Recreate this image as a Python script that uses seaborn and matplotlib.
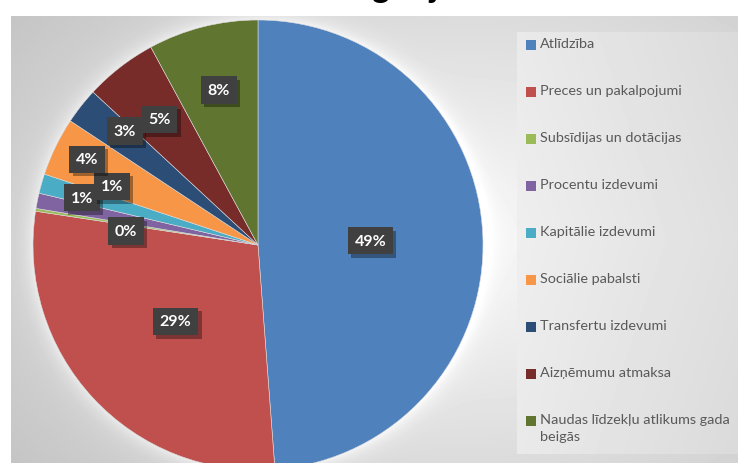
import numpy as np
import matplotlib
matplotlib.use("Agg")
import matplotlib.pyplot as plt
import matplotlib.patheffects as pe
from matplotlib.patches import Rectangle
import seaborn as sns

sns.set_theme(style="white")
plt.rcParams['font.family'] = ['Lato', 'DejaVu Sans']

# ---- data ----
categories = [
    "Atlīdzība",
    "Preces un pakalpojumi",
    "Subsīdijas un dotācijas",
    "Procentu izdevumi",
    "Kapitālie izdevumi",
    "Sociālie pabalsti",
    "Transfertu izdevumi",
    "Aizņēmumu atmaksa",
    "Naudas līdzekļu atlikums gada\nbeigās",
]
shares = [48.8, 28.6, 0.2, 1.1, 1.4, 4.2, 2.6, 5.2, 7.9]
colors_hex = ["#4F81BD", "#C0504D", "#9BBB59", "#8064A2", "#4BACC6",
              "#F79646", "#2C4D75", "#772C2A", "#5F7530"]
title_text = "Izdevumu kategorijas"

# label layout (radial fraction, clockwise angular shift in degrees)
label_r = [0.50, 0.50, 0.59, 0.81, 0.70, 0.85, 0.78, 0.71, 0.71]
label_shift = [0, 0, -3, 3.7, 6, 0.7, 2.4, -0.4, 0]

W, H = 738, 464
fig = plt.figure(figsize=(W / 100, H / 100), dpi=100, facecolor="white")

# ---- background of chart area (pixel space, top-left origin) ----
x0, y0 = 11, 17
xs = np.arange(x0, W) + 0.5
ys = np.arange(y0, H) + 0.5
X, Y = np.meshgrid(xs, ys)
d = np.sqrt(((X - 470) / 460) ** 2 + ((Y - 240) / 300) ** 2)
v = 0.965 - 0.15 * d ** 1.2
# soft white glow around the pie
cx, cy, R = 258, 246, 225
rr = np.sqrt((X - cx) ** 2 + (Y - cy) ** 2)
glow = 0.10 * np.exp(-np.clip(rr - R, 0, None) / 9.0)
v = v + glow
# legend panel
panel = (X >= 517) & (Y >= 33) & (Y <= 455)
v = np.where(panel, 0.935 - 0.06 * (X - 517) / 221 - 0.02 * np.abs(Y - 240) / 220, v)
v = np.clip(v, 0, 1)
bg = fig.add_axes([x0 / W, 0, (W - x0) / W, (H - y0) / H], zorder=0)
bg.imshow(v, cmap="gray", vmin=0, vmax=1, aspect="auto", interpolation="bilinear")
bg.set_axis_off()

# ---- pie ----
ax = fig.add_axes([(cx - R) / W, (H - cy - R) / H, 2 * R / W, 2 * R / H], zorder=2)
ax.set_facecolor("none")
palette = sns.color_palette(colors_hex)
wedges, _ = ax.pie(shares, colors=palette, startangle=90, counterclock=False,
                   wedgeprops=dict(linewidth=0.4, edgecolor="#dcdcdc"))
ax.set_xlim(-1, 1)
ax.set_ylim(-1, 1)
ax.set_axis_off()

for w, val, r, sh in zip(wedges, shares, label_r, label_shift):
    mid = np.deg2rad((w.theta1 + w.theta2) / 2 - sh)
    t = ax.text(r * np.cos(mid), r * np.sin(mid), f"{round(val)}%",
                ha="center", va="center", color="white", fontsize=11.5,
                fontweight="bold", zorder=5,
                bbox=dict(boxstyle="square,pad=0.42", facecolor="#404040",
                          edgecolor="none"))
    t.get_bbox_patch().set_path_effects([
        pe.withSimplePatchShadow(offset=(2.5, -2.5), shadow_rgbFace="black", alpha=0.35),
        pe.Normal()])

# ---- legend (manual, to match spacing) ----
leg_y0 = 46
leg_step = 47
for i, (lab, col) in enumerate(zip(categories, palette)):
    yc = leg_y0 + i * leg_step
    fig.patches.append(Rectangle((526 / W, 1 - (yc + 5) / H), 10 / W, 10 / H,
                                 transform=fig.transFigure, facecolor=col,
                                 edgecolor="none", zorder=3))
    fig.text(540 / W, 1 - (yc - 8) / H, lab, ha="left", va="top",
             fontsize=10.4, color="#595959", linespacing=1.55, zorder=3)

# ---- title (mostly cropped at top, as in the reference) ----
fig.text(312 / W, 1 + 2.5 / H, title_text, ha="center", va="baseline",
         fontsize=24, fontweight="bold", color="black")

fig.savefig("out.png", dpi=100, facecolor="white")
